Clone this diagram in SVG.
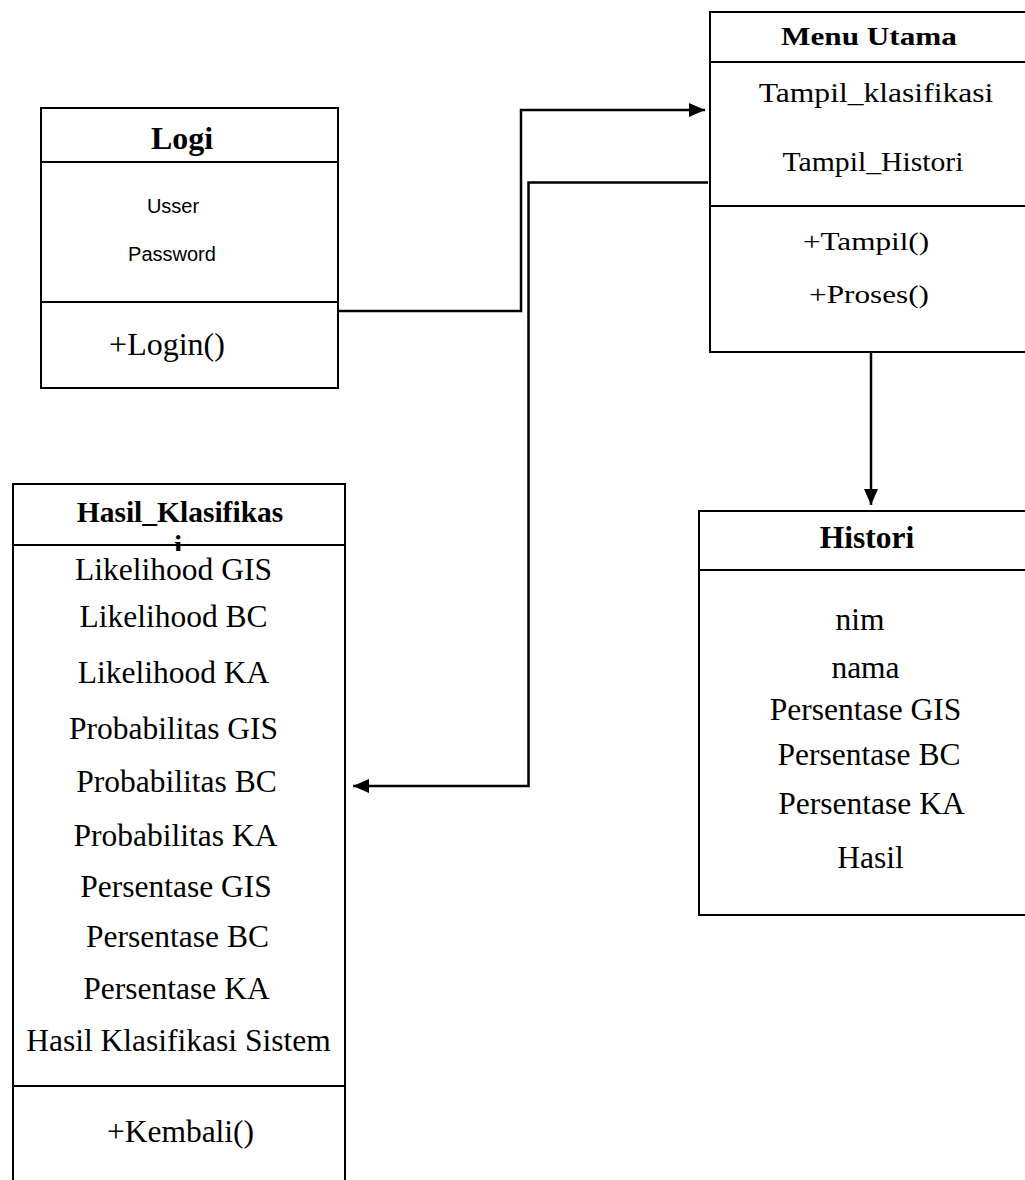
<svg xmlns="http://www.w3.org/2000/svg" width="1025" height="1180" viewBox="0 0 1025 1180">
<style>
  .box { fill: #ffffff; stroke: #000000; stroke-width: 2; }
  .sep { stroke: #000000; stroke-width: 2; fill: none; }
  .t { font-family: "Liberation Serif", "Times New Roman", serif; fill: #000000; text-anchor: middle; }
  .b { font-weight: bold; }
  .s { font-family: "Liberation Sans", Arial, sans-serif; font-size: 20px; fill: #000000; text-anchor: middle; }
  .conn { stroke: #000000; stroke-width: 2.5; fill: none; marker-end: url(#arrow); }
</style>
<defs>
  <marker id="arrow" viewBox="0 0 16 14" refX="16" refY="7" markerWidth="16" markerHeight="14" markerUnits="userSpaceOnUse" orient="auto">
    <path d="M0,0 L16,7 L0,14 Z" fill="#000000"/>
  </marker>
  <clipPath id="titleClip">
    <rect x="13" y="484" width="332" height="67"/>
  </clipPath>
</defs>
<rect width="1025" height="1180" fill="#ffffff"/>

<g id="connectors">
  <path class="conn" d="M338,311 H521 V110 H705"/>
  <path class="conn" d="M708,182.5 H528.5 V786 H353"/>
  <path class="conn" d="M871,352 V505"/>
</g>

<g id="node-logi">
  <rect class="box" x="41" y="108" width="297" height="280"/>
  <line class="sep" x1="41" y1="162" x2="338" y2="162"/>
  <line class="sep" x1="41" y1="302" x2="338" y2="302"/>
  <text class="t b" x="182" y="149" font-size="32">Logi</text>
  <text class="s" x="173" y="213">Usser</text>
  <text class="s" x="172" y="261">Password</text>
  <text class="t" x="167" y="355" font-size="32">+Login()</text>
</g>

<g id="node-menu-utama">
  <rect class="box" x="710" y="12" width="330" height="340"/>
  <line class="sep" x1="710" y1="62" x2="1030" y2="62"/>
  <line class="sep" x1="710" y1="206" x2="1030" y2="206"/>
  <text class="t b" font-size="26" transform="translate(869 45) scale(1.2 1)">Menu Utama</text>
  <text class="t" font-size="27" transform="translate(876 102) scale(1.17 1)">Tampil_klasifikasi</text>
  <text class="t" font-size="27" transform="translate(873 171) scale(1.1 1)">Tampil_Histori</text>
  <text class="t" font-size="26" transform="translate(866 250) scale(1.2 1)">+Tampil()</text>
  <text class="t" font-size="26" transform="translate(869 303) scale(1.2 1)">+Proses()</text>
</g>

<g id="node-histori">
  <rect class="box" x="699" y="511" width="340" height="404"/>
  <line class="sep" x1="699" y1="570" x2="1030" y2="570"/>
  <text class="t b" x="867" y="548" font-size="31.5">Histori</text>
  <text class="t" x="860" y="630" font-size="31.5">nim</text>
  <text class="t" x="865.5" y="678" font-size="31.5">nama</text>
  <text class="t" x="865.5" y="720" font-size="31.5">Persentase GIS</text>
  <text class="t" x="869" y="765" font-size="31.5">Persentase BC</text>
  <text class="t" x="871.5" y="814" font-size="31.5">Persentase KA</text>
  <text class="t" x="870.5" y="868" font-size="31.5">Hasil</text>
</g>

<g id="node-hasil-klasifikasi">
  <rect class="box" x="13" y="484" width="332" height="720"/>
  <g clip-path="url(#titleClip)">
    <text class="t b" x="180" y="522" font-size="29.5">Hasil_Klasifikas</text>
    <text class="t b" x="178" y="556" font-size="29.5">i</text>
  </g>
  <line class="sep" x1="13" y1="545" x2="345" y2="545"/>
  <line class="sep" x1="13" y1="1086" x2="345" y2="1086"/>
  <text class="t" x="173.5" y="580" font-size="31.5">Likelihood GIS</text>
  <text class="t" x="173.5" y="627" font-size="31.5">Likelihood BC</text>
  <text class="t" x="173.5" y="683" font-size="31.5">Likelihood KA</text>
  <text class="t" x="173.5" y="739" font-size="31.5">Probabilitas GIS</text>
  <text class="t" x="176.5" y="792" font-size="31.5">Probabilitas BC</text>
  <text class="t" x="175.5" y="846" font-size="31.5">Probabilitas KA</text>
  <text class="t" x="176" y="897" font-size="31.5">Persentase GIS</text>
  <text class="t" x="177.5" y="947" font-size="31.5">Persentase BC</text>
  <text class="t" x="176.5" y="999" font-size="31.5">Persentase KA</text>
  <text class="t" x="178.5" y="1051" font-size="31.5">Hasil Klasifikasi Sistem</text>
  <text class="t" x="180.5" y="1142" font-size="31.5">+Kembali()</text>
</g>
</svg>
